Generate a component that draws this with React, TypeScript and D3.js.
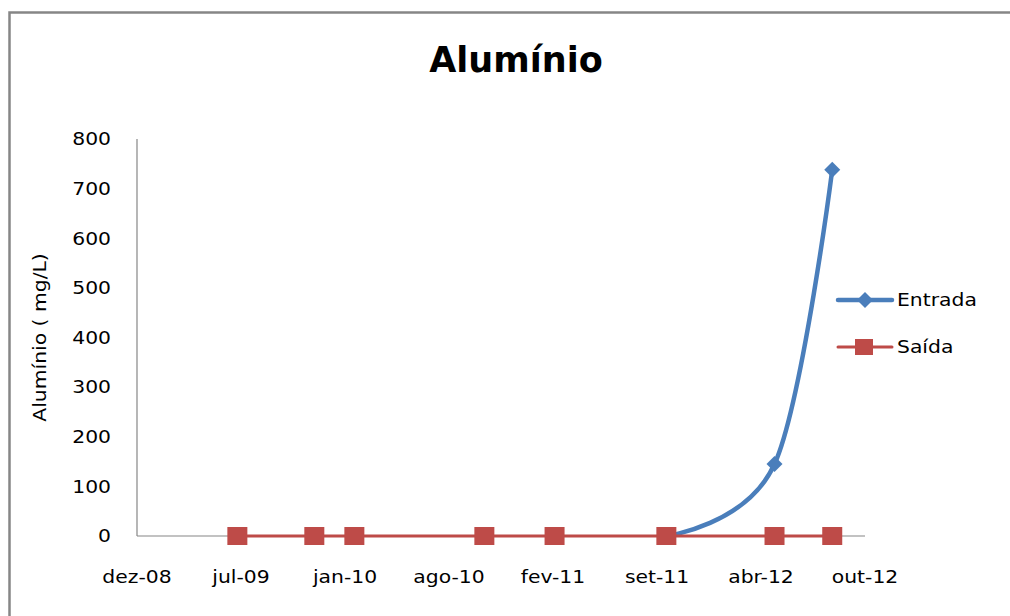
import * as d3 from "d3";

// axis ticks (Excel date axis, every 200 days)
const tickDates = ["2008-12-19", "2009-07-07", "2010-01-23", "2010-08-11", "2011-02-27", "2011-09-15", "2012-04-02", "2012-10-19"];
const tickLabels = ["dez-08", "jul-09", "jan-10", "ago-10", "fev-11", "set-11", "abr-12", "out-12"];
const yTicks = [0, 100, 200, 300, 400, 500, 600, 700, 800];

// Entrada
const entradaDates = ["2011-10-03", "2012-04-28", "2012-08-17"];
const entradaValues = [0, 145, 738];

// Saída
const saidaDates = ["2009-06-30", "2009-11-25", "2010-02-10", "2010-10-18", "2011-03-02", "2011-10-03", "2012-04-28", "2012-08-17"];
const saidaValues = [0, 0, 0, 0, 0, 0, 0, 0];

const BLUE = "#4A7EBB";
const RED = "#BE4B48";
const GRAY = "#868686";
const FONT = "DejaVu Sans, sans-serif";
const STRETCH = 1.13; // the original text is a bit wide

// text drawn at (x, y), stretched sideways
const Label = ({ x, y, anchor = "start", rotate = 0, size = 18, children }: any) => (
  <text
    transform={`translate(${x},${y}) rotate(${rotate}) scale(${STRETCH},1)`}
    dy="0.35em"
    textAnchor={anchor}
    fontFamily={FONT}
    fontSize={size}
    fill="#000"
  >
    {children}
  </text>
);

const App = () => {
  const width = 1010;
  const height = 616;
  const margin = { top: 139, right: 145, bottom: 80, left: 137 };

  const parse = d3.utcParse("%Y-%m-%d");

  const x = d3.scaleUtc()
    .domain([parse(tickDates[0]), parse(tickDates[tickDates.length - 1])])
    .range([margin.left, width - margin.right]);

  const y = d3.scaleLinear()
    .domain([0, 800])
    .range([height - margin.bottom, margin.top]);

  const entrada = entradaDates.map((d, i) => ({ date: parse(d), value: entradaValues[i] }));
  const saida = saidaDates.map((d, i) => ({ date: parse(d), value: saidaValues[i] }));

  const smooth = d3.line<{ date: Date; value: number }>()
    .x(d => x(d.date))
    .y(d => y(d.value))
    .curve(d3.curveCatmullRom.alpha(0));

  const straight = d3.line<{ date: Date; value: number }>()
    .x(d => x(d.date))
    .y(d => y(d.value));

  const y0 = y(0);
  const diamond = (cx: number, cy: number, r: number) =>
    `M${cx},${cy - r}L${cx + r},${cy}L${cx},${cy + r}L${cx - r},${cy}Z`;

  const legendX = 838;
  const legendY = [300, 347];

  return (
    <svg width={width} height={height} style={{ position: "absolute", left: 0, top: 0, background: "#fff" }}>
      <rect x={9.5} y={12.5} width={1020} height={640} fill="#fff" stroke={GRAY} strokeWidth={2.5} />

      <text x={516} y={72} textAnchor="middle" fontFamily={FONT} fontWeight="bold" fontSize={35} fill="#000">
        Alumínio
      </text>

      {/* axes */}
      <line x1={margin.left} x2={margin.left} y1={margin.top} y2={y0} stroke={GRAY} strokeWidth={1.2} />
      <line x1={margin.left} x2={width - margin.right} y1={y0} y2={y0} stroke={GRAY} strokeWidth={1.2} />

      {yTicks.map(t => (
        <Label key={t} x={111} y={y(t)} anchor="end">{t}</Label>
      ))}
      {tickDates.map((d, i) => (
        <Label key={d} x={x(parse(d))} y={577} anchor="middle">{tickLabels[i]}</Label>
      ))}

      <Label x={40} y={(margin.top + y0) / 2} anchor="middle" rotate={-90}>Alumínio ( mg/L)</Label>

      {/* Entrada */}
      <path d={smooth(entrada) ?? ""} fill="none" stroke={BLUE} strokeWidth={4.5} strokeLinecap="round" />
      {entrada.map((d, i) => (
        <path key={i} d={diamond(x(d.date), y(d.value), 8)} fill={BLUE} />
      ))}

      {/* Saída */}
      <path d={straight(saida) ?? ""} fill="none" stroke={RED} strokeWidth={3} />
      {saida.map((d, i) => (
        <rect key={i} x={x(d.date) - 10} y={y(d.value) - 9} width={20} height={18} fill={RED} />
      ))}

      {/* legend */}
      <line x1={legendX} x2={legendX + 54} y1={legendY[0]} y2={legendY[0]} stroke={BLUE} strokeWidth={4.5} strokeLinecap="round" />
      <path d={diamond(legendX + 27, legendY[0], 8)} fill={BLUE} />
      <Label x={legendX + 59} y={legendY[0]}>Entrada</Label>

      <line x1={legendX} x2={legendX + 54} y1={legendY[1]} y2={legendY[1]} stroke={RED} strokeWidth={3} strokeLinecap="round" />
      <rect x={legendX + 17} y={legendY[1] - 8} width={18} height={16} fill={RED} />
      <Label x={legendX + 59} y={legendY[1]}>Saída</Label>
    </svg>
  );
};

export default App;
